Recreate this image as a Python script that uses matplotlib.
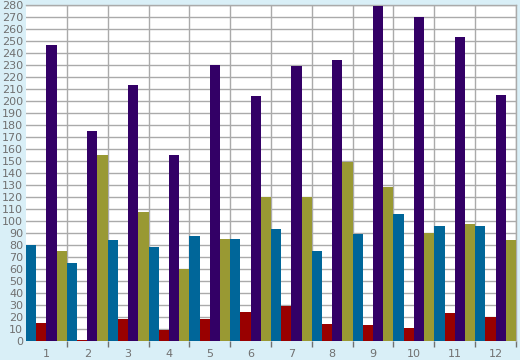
import numpy as np
import matplotlib
matplotlib.use('Agg')
import matplotlib.pyplot as plt

# Data
categories = ['1', '2', '3', '4', '5', '6', '7', '8', '9', '10', '11', '12']
blue = [80, 65, 84, 78, 87, 85, 93, 75, 89, 106, 96, 96]
red = [15, 1, 18, 9, 18, 24, 29, 14, 13, 11, 23, 20]
purple = [247, 175, 213, 155, 230, 204, 229, 234, 279, 270, 253, 205]
olive = [75, 155, 107, 60, 85, 120, 120, 149, 128, 90, 97, 84]

series = [blue, red, purple, olive]
colors = ['#006699', '#990000', '#330066', '#999933']
BG = '#d9eff7'
GRID = '#aaaaaa'
TEXT = '#707070'

fig = plt.figure(figsize=(5.2, 3.6), dpi=100, facecolor=BG)
ax = fig.add_axes([26 / 520, 19.3 / 360, 490 / 520, 335.7 / 360])
ax.set_facecolor('white')

x = np.arange(1, len(categories) + 1)
width = 0.25
for i, (vals, col) in enumerate(zip(series, colors)):
    ax.bar(x + (i - 1.5) * width, vals, width=width, color=col,
           linewidth=0, zorder=3)

ax.set_xlim(0.5, 12.5)
ax.set_ylim(0, 280)
ax.set_yticks(np.arange(0, 281, 10))
ax.yaxis.grid(True, color=GRID, linewidth=1, zorder=0)

# category labels in middle, tick marks + grid at group boundaries
ax.set_xticks(x)
ax.set_xticklabels(categories)
ax.set_xticks(np.arange(1.5, 12.6, 1), minor=True)
ax.xaxis.grid(True, which='minor', color=GRID, linewidth=1, zorder=0)
ax.tick_params(axis='x', which='major', length=0, pad=6,
               labelsize=8, labelcolor=TEXT)
ax.tick_params(axis='x', which='minor', length=4, width=1, color=TEXT,
               direction='out')
ax.tick_params(axis='y', length=0, pad=2, labelsize=8, labelcolor=TEXT)

for side in ['left', 'bottom']:
    ax.spines[side].set_visible(False)
for side in ['top', 'right']:
    ax.spines[side].set_color(GRID)
    ax.spines[side].set_linewidth(1)

fig.savefig('out.png', dpi=100, facecolor=BG)
